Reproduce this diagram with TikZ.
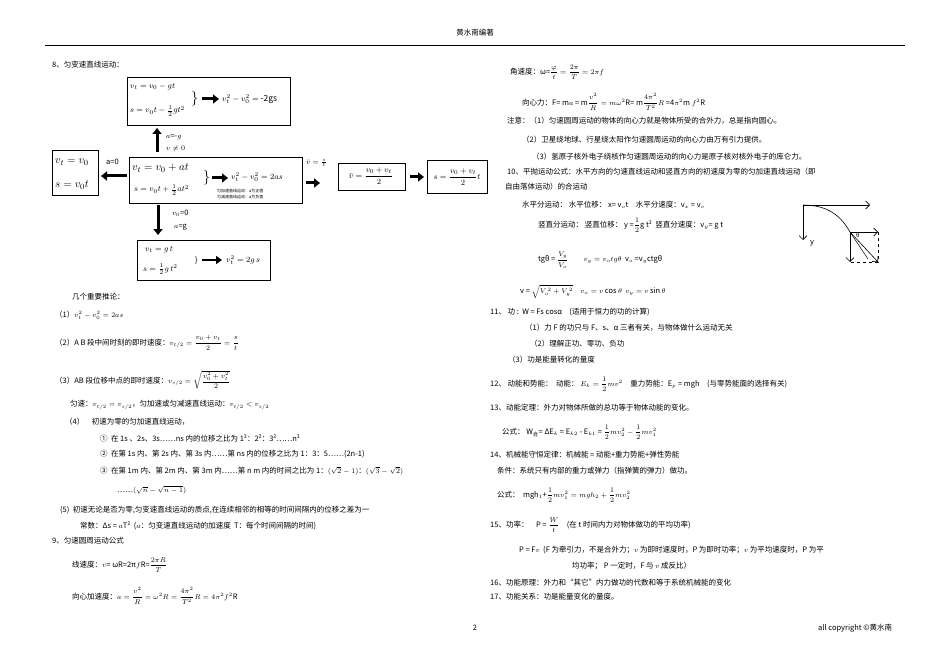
\documentclass[tikz,border=0pt]{standalone}
\usepackage{amsmath}
\usepackage{fontspec}
\setmainfont{Noto Sans CJK SC}
\usetikzlibrary{arrows.meta}
\tikzset{
 txt/.style={anchor=west,inner sep=0pt,font=\fontsize{7.5}{9}\selectfont},
 bf/.style={anchor=west,inner sep=0pt,font=\fontsize{8.5}{10}\selectfont},
 bfl/.style={anchor=west,inner sep=0pt,font=\fontsize{11}{12}\selectfont},
 bx/.style={draw,line width=0.6pt},
 big/.style={-{Triangle[length=6pt,width=9pt]},line width=3pt},
}
\newcommand{\T}[4]{\node[txt] (#1) at (#2,#3) {#4};}
\begin{document}
\begin{tikzpicture}[x=1pt,y=-1pt]
\useasboundingbox (0,0) rectangle (950,671);
% header/footer
\node[txt,anchor=center] (hd) at (475,33) {黄水南编著};
\coordinate (hl) at (45,45); \coordinate (hr) at (905,45);
\draw[line width=0.4pt] (hl) -- (hr);
\node[txt,anchor=center] (pg) at (475,628) {2};
\T{cp}{818}{628}{all copyright ©黄水南}
% section 8 diagram
\T{s8}{52}{65}{8、匀变速直线运动：}
\node[bx,minimum width=163pt,minimum height=48pt,anchor=north west] (top) at (127,77) {};
\node[bf] (tf1) at (130,87) {$v_t=v_0-gt$};
\node[bf] (tf2) at (130,111) {$s=v_0t-\frac12gt^2$};
\node[bf,font=\Large] (tb1) at (191,99) {$\}$};
\coordinate (ta1) at (202,99); \coordinate (ta2) at (219,99);
\draw[big] (ta1) -- (ta2);
\node[bf] (tf3) at (222,99) {$v_t^2-v_0^2=$ -2gs};
\coordinate (ua1) at (157,152); \coordinate (ua2) at (157,128);
\draw[big] (ua1) -- (ua2);
\T{ul1}{166}{137}{$a$=-$g$}
\T{ul2}{166}{149}{$v\neq0$}
\node[bx,minimum width=46pt,minimum height=45pt,anchor=north west] (lft) at (52,150) {};
\node[bfl] (lf1) at (55,162) {$v_t=v_0$};
\node[bfl] (lf2) at (55,185) {$s=v_0t$};
\coordinate (la1) at (127,176); \coordinate (la2) at (101,176);
\draw[big] (la1) -- (la2);
\T{ll}{106}{162}{a=0}
\node[bx,minimum width=173pt,minimum height=46pt,anchor=north west] (ctr) at (129,157) {};
\node[bfl] (cf1) at (132,168) {$v_t=v_0+at$};
\node[bf] (cf2) at (134,190) {$s=v_0t+\frac12at^2$};
\node[bf,font=\Large] (cb) at (203,178) {$\}$};
\coordinate (ca1) at (212,178); \coordinate (ca2) at (228,178);
\draw[big] (ca1) -- (ca2);
\node[bf] (cf3) at (231,177) {$v_t^2-v_0^2=2as$};
\node[txt,font=\fontsize{4}{5}\selectfont] (cs1) at (217,191) {匀加速直线运动：a为正值};
\node[txt,font=\fontsize{4}{5}\selectfont] (cs2) at (217,197) {匀减速直线运动：a为负值};
\coordinate (ra1) at (306,183); \coordinate (ra2) at (320,183);
\draw[big] (ra1) -- (ra2);
\T{rl}{306}{163}{$\bar v=\frac st$}
\node[bx,minimum width=67pt,minimum height=27pt,anchor=north west] (avg) at (338,163) {};
\node[bf,anchor=center] (avgt) at (371,176) {$\bar v=\dfrac{v_0+v_t}{2}$};
\coordinate (ra3) at (410,177); \coordinate (ra4) at (424,177);
\draw[big] (ra3) -- (ra4);
\node[bx,minimum width=60pt,minimum height=33pt,anchor=north west] (sbx) at (427,160) {};
\node[bf,anchor=center] (sbt) at (457,177) {$s=\dfrac{v_0+v_t}{2}t$};
\coordinate (da1) at (158,205); \coordinate (da2) at (158,235);
\draw[big] (da1) -- (da2);
\T{dl1}{172}{213}{$v_0$=0}
\T{dl2}{174}{227}{$a$=g}
\node[bx,minimum width=133pt,minimum height=40pt,anchor=north west] (bot) at (137,240) {};
\node[bf] (bf1) at (145,250) {$v_t=g\,t$};
\node[bf] (bf2) at (143,269) {$s=\frac12g\,t^2$};
\node[bf] (bb) at (194,260) {$\}$};
\coordinate (ba1) at (202,260); \coordinate (ba2) at (222,260);
\draw[-{Triangle[length=6pt,width=8pt]},line width=2pt] (ba1) -- (ba2);
\node[bf] (bf3) at (226,260) {$v_t^2=2g\,s$};
% left text
\T{a1}{72}{297}{几个重要推论：}
\T{a2}{55}{315}{（1）$v_t^2-v_0^2=2as$}
\T{a3}{55}{343}{（2）A B 段中间时刻的即时速度：$v_{t/2}=\dfrac{v_0+v_t}{2}=\dfrac st$}
\T{a4}{55}{380}{（3）AB 段位移中点的即时速度：$v_{s/2}=\sqrt{\dfrac{v_0^2+v_t^2}{2}}$}
\T{a5}{70}{405}{匀速：$v_{t/2}=v_{s/2}$，匀加速或匀减速直线运动：$v_{t/2}<v_{s/2}$}
\T{a6}{65}{422}{（4）\quad 初速为零的匀加速直线运动，}
\T{a7}{100}{438}{①\ \ 在 1s 、2s、3s……ns 内的位移之比为 1²：2²：3²……n²}
\T{a8}{100}{454}{②\ \ 在第 1s 内、第 2s 内、第 3s 内……第 ns 内的位移之比为 1：3：5……(2n-1)}
\T{a9}{100}{471}{③\ \ 在第 1m 内、第 2m 内、第 3m 内……第 n m 内的时间之比为 1：$(\sqrt2-1)$：$(\sqrt3-\sqrt2)$}
\T{a10}{117}{490}{……$(\sqrt n-\sqrt{n-1})$}
\T{a11}{60}{510}{(5)\ \ 初速无论是否为零,匀变速直线运动的质点,在连续相邻的相等的时间间隔内的位移之差为一}
\T{a12}{80}{526}{常数：Δs = $a$T²\ \ ($a$：匀变速直线运动的加速度\ \ T：每个时间间隔的时间)}
\T{a13}{52}{541}{9、匀速圆周运动公式}
\T{a14}{72}{565}{线速度：$v$= ωR=2π$f$R=$\dfrac{2\pi R}{T}$}
\T{a15}{72}{596}{向心加速度：$a=\dfrac{v^2}{R}=\omega^2R=\dfrac{4\pi^2}{T^2}R=4\pi^2f^2$R}
% right column
\T{b1}{510}{72}{角速度：ω=$\dfrac{\varphi}{t}=\dfrac{2\pi}{T}=2\pi f$}
\T{b2}{522}{102}{向心力：F= m$a$ = m$\dfrac{v^2}{R}=m\omega^2$R= m$\dfrac{4\pi^2}{T^2}R$ =4$\pi^2$m $f^2$R}
\T{b3}{507}{121}{注意：（1）匀速圆周运动的物体的向心力就是物体所受的合外力，总是指向圆心。}
\T{b4}{522}{140}{（2）卫星绕地球、行星绕太阳作匀速圆周运动的向心力由万有引力提供。}
\T{b5}{532}{157}{（3）氢原子核外电子绕核作匀速圆周运动的向心力是原子核对核外电子的库仑力。}
\T{b6}{507}{172}{10、平抛运动公式：水平方向的匀速直线运动和竖直方向的初速度为零的匀加速直线运动（即}
\T{b7}{505}{187}{自由落体运动）的合运动}
\T{b8}{522}{205}{水平分运动：\ 水平位移：\ x= v$_o$t\quad 水平分速度：v$_x$ = v$_o$}
\T{b9}{538}{225}{竖直分运动：\ 竖直位移：\ y =$\dfrac12$g t²\ \ 竖直分速度：v$_y$= g t}
\T{b10}{538}{260}{tgθ = $\dfrac{V_y}{V_o}$\qquad $v_y=v_otg\theta$\ \ v$_o$ =v$_y$ctgθ}
\T{b11}{520}{292}{v = $\sqrt{V_o^{\,2}+V_y^{\,2}}$\quad $v_o=v\cos\theta$\ \ $v_y=v\sin\theta$}
\T{c1}{490}{312}{11、\ 功 :\ \ W = Fs cosα\quad (适用于恒力的功的计算)}
\T{c2}{525}{328}{（1）力 F 的功只与 F、s、α 三者有关，与物体做什么运动无关}
\T{c3}{530}{344}{（2）理解正功、零功、负功}
\T{c4}{508}{360}{（3）功是能量转化的量度}
\T{c5}{490}{384}{12、\ 动能和势能：\ \ 动能：\ $E_k=\dfrac12mv^2$\quad 重力势能：E$_p$ = mgh\quad (与零势能面的选择有关)}
\T{c6}{490}{408}{13、动能定理：外力对物体所做的总功等于物体动能的变化。}
\T{c7}{502}{432}{公式：\ W$_{合}$= ΔE$_k$ = E$_{k2}$ - E$_{k1}$ = $\dfrac12mv_2^2-\dfrac12mv_1^2$}
\T{c8}{490}{455}{14、机械能守恒定律：机械能 = 动能+重力势能+弹性势能}
\T{c9}{497}{471}{条件：系统只有内部的重力或弹力（指弹簧的弹力）做功。}
\T{c10}{497}{495}{公式：\ \ mgh$_1$+$\dfrac12mv_1^2=mgh_2+\dfrac12mv_2^2$}
\T{c11}{490}{525}{15、功率：\quad P = $\dfrac Wt$\quad (在 t 时间内力对物体做功的平均功率)}
\T{c12}{519}{550}{P = F$v$\ \ (F 为牵引力，不是合外力；$v$ 为即时速度时，P 为即时功率；$v$ 为平均速度时，P 为平}
\T{c13}{572}{566}{均功率；\ P 一定时，F 与 $v$ 成反比）}
\T{c14}{490}{583}{16、功能原理：外力和“其它”内力做功的代数和等于系统机械能的变化}
\T{c15}{490}{597}{17、功能关系：功是能量变化的量度。}
% projectile figure
\coordinate (o) at (803,205); \coordinate (xe) at (870,205); \coordinate (ye) at (803,240);
\coordinate (p) at (850,232); \coordinate (px) at (878,232); \coordinate (py) at (850,262); \coordinate (pc) at (878,262);
\draw[-{Straight Barb[length=4pt]},line width=0.6pt] (o) -- (xe);
\draw[-{Straight Barb[length=4pt]},line width=0.6pt] (o) -- (ye);
\node[txt] (yl) at (810,243) {\itshape y};
\draw[line width=0.6pt] (o) .. controls (830,205) and (842,218) .. (p);
\draw[-{Straight Barb[length=4pt]},line width=0.6pt] (p) -- (px);
\draw[-{Straight Barb[length=4pt]},line width=0.6pt] (p) -- (py);
\draw[-{Straight Barb[length=4pt]},line width=0.6pt] (p) -- (pc);
\draw[line width=0.5pt] (p) -- (868,259);
\draw[dashed,line width=0.5pt] (px) -- (pc) -- (py);
\node[txt,font=\fontsize{6}{7}\selectfont] (th) at (856,235) {θ};
\end{tikzpicture}
\end{document}
